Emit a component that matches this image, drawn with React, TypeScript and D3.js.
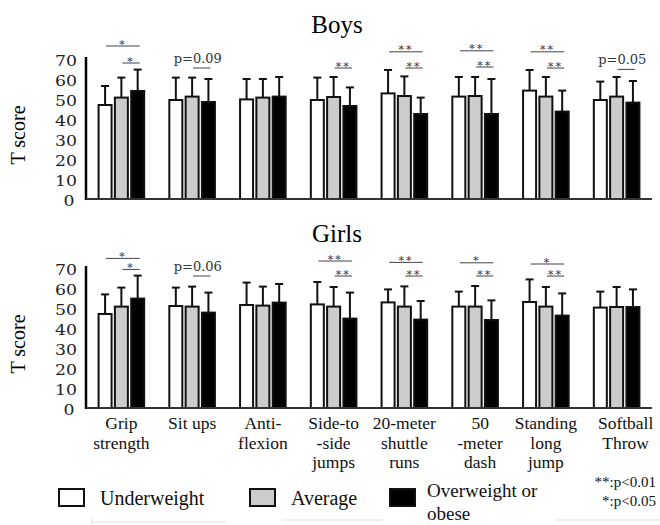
import * as d3 from "d3";

// ==== DATA ====

const CATEGORIES = [
  "Grip strength",
  "Sit ups",
  "Anti-flexion",
  "Side-to-side jumps",
  "20-meter shuttle runs",
  "50-meter dash",
  "Standing long jump",
  "Softball Throw",
];

// how each category label is broken over lines under the axis
const CATEGORY_LINES = [
  ["Grip", "strength"],
  ["Sit ups"],
  ["Anti-", "flexion"],
  ["Side-to", "-side", "jumps"],
  ["20-meter", "shuttle", "runs"],
  ["50", "-meter", "dash"],
  ["Standing", "long", "jump"],
  ["Softball", "Throw"],
];

const GROUPS = ["Underweight", "Average", "Overweight or obese"];
const GROUP_FILLS = ["#ffffff", "#cccccc", "#000000"];

const Y_TICKS = [0, 10, 20, 30, 40, 50, 60, 70];

// Boys: mean T score and SD
const BOYS_UNDER = [47, 49.5, 49.8, 49.5, 52.8, 51.2, 54.2, 49.5];
const BOYS_UNDER_SD = [9.5, 11.2, 10.2, 11.2, 11.7, 9.8, 10.3, 9.2];
const BOYS_AVG = [50.7, 51.2, 50.7, 51, 51.5, 51.5, 51.2, 51.2];
const BOYS_AVG_SD = [10, 9.5, 9.3, 10, 9.8, 9.5, 9.8, 9.8];
const BOYS_OVER = [54, 48.5, 51.2, 46.5, 42.5, 42.5, 43.7, 48.2];
const BOYS_OVER_SD = [10.7, 11.5, 9.8, 9.3, 8.2, 17.5, 10.5, 10.8];

// Girls: mean T score and SD
const GIRLS_UNDER = [47, 51, 51.5, 51.8, 52.8, 50.7, 53, 50.2];
const GIRLS_UNDER_SD = [9.8, 9.2, 11.2, 11.2, 6.5, 7.5, 11.3, 8];
const GIRLS_AVG = [50.7, 50.7, 51.2, 50.7, 50.7, 50.7, 50.7, 50.5];
const GIRLS_AVG_SD = [9.5, 10, 9.5, 9.8, 10.1, 10.3, 9.8, 10];
const GIRLS_OVER = [54.7, 47.7, 52.7, 44.7, 44.2, 44, 46.2, 50.5];
const GIRLS_OVER_SD = [11.5, 10, 9.3, 13, 9.3, 9.8, 11.1, 8.8];

// significance brackets: category index, from/to group, label, level (T score units)
type Sig = { cat: number; from: number; to: number; label: string; level: number };

const BOYS_SIG: Sig[] = [
  { cat: 0, from: 0, to: 2, label: "*", level: 76.5 },
  { cat: 0, from: 1, to: 2, label: "*", level: 68 },
  { cat: 1, from: 1, to: 2, label: "p=0.09", level: 65.5 },
  { cat: 3, from: 1, to: 2, label: "**", level: 65.5 },
  { cat: 4, from: 0, to: 2, label: "**", level: 73.6 },
  { cat: 4, from: 1, to: 2, label: "**", level: 65.5 },
  { cat: 5, from: 0, to: 2, label: "**", level: 74.1 },
  { cat: 5, from: 1, to: 2, label: "**", level: 66 },
  { cat: 6, from: 0, to: 2, label: "**", level: 73.6 },
  { cat: 6, from: 1, to: 2, label: "**", level: 65.5 },
  { cat: 7, from: 1, to: 2, label: "p=0.05", level: 64.8 },
];

const GIRLS_SIG: Sig[] = [
  { cat: 0, from: 0, to: 2, label: "*", level: 74.8 },
  { cat: 0, from: 1, to: 2, label: "*", level: 69.3 },
  { cat: 1, from: 1, to: 2, label: "p=0.06", level: 66 },
  { cat: 3, from: 0, to: 2, label: "**", level: 73.5 },
  { cat: 3, from: 1, to: 2, label: "**", level: 66 },
  { cat: 4, from: 0, to: 2, label: "**", level: 72.8 },
  { cat: 4, from: 1, to: 2, label: "**", level: 66 },
  { cat: 5, from: 0, to: 2, label: "*", level: 72.6 },
  { cat: 5, from: 1, to: 2, label: "**", level: 66 },
  { cat: 6, from: 0, to: 2, label: "*", level: 72 },
  { cat: 6, from: 1, to: 2, label: "**", level: 66 },
];

// ==== LAYOUT ====

const W = 660;
const H = 525;
const AXIS_LEFT = 86;
const AXIS_RIGHT = 652;
const BAR_W = 13;

const TIMES = "'Liberation Serif', 'Times New Roman', serif";
const CENTURY = "'DejaVu Serif', serif";

const x = d3.scaleBand<string>().domain(CATEGORIES).range([AXIS_LEFT, AXIS_RIGHT]);
const xInner = d3.scalePoint<number>().domain([0, 1, 2]).range([-16.3, 16.3]);
const cx = (cat: number, g: number) => (x(CATEGORIES[cat]) ?? 0) + x.bandwidth() / 2 + xInner(g)!;

type PanelProps = {
  title: string;
  bottom: number;
  means: number[][];
  sds: number[][];
  sigs: Sig[];
  titleY: number;
};

function Panel({ title, bottom, means, sds, sigs, titleY }: PanelProps) {
  const y = d3.scaleLinear().domain([0, 70]).range([bottom, bottom - 140]);

  return (
    <g>
      <text x={337} y={titleY} textAnchor="middle" fontFamily={TIMES} fontSize={25}>
        {title}
      </text>
      <text
        transform={`translate(25,${y(32)}) rotate(-90)`}
        textAnchor="middle"
        fontFamily={TIMES}
        fontSize={20}
      >
        T score
      </text>

      {Y_TICKS.map((t) => (
        <text
          key={t}
          x={t === 0 ? 69 : 66}
          y={y(t) + 7}
          textAnchor="middle"
          fontFamily={CENTURY}
          fontSize={14}
          textLength={t === 0 ? 11 : 22}
          lengthAdjust="spacingAndGlyphs"
          fill="#222"
        >
          {t}
        </text>
      ))}

      {means.map((vals, g) =>
        vals.map((v, c) => {
          const bx = cx(c, g);
          const top = y(v + sds[g][c]);
          return (
            <g key={`${g}-${c}`}>
              <line x1={bx} x2={bx} y1={y(v)} y2={top} stroke="#111" strokeWidth={2} />
              <line x1={bx - 4} x2={bx + 4} y1={top} y2={top} stroke="#111" strokeWidth={2} />
              <rect
                x={bx - BAR_W / 2}
                y={y(v)}
                width={BAR_W}
                height={y(0) - y(v)}
                fill={GROUP_FILLS[g]}
                stroke="#111"
                strokeWidth={2}
              />
            </g>
          );
        })
      )}

      <line x1={AXIS_LEFT} x2={AXIS_LEFT} y1={y(71)} y2={y(0) + 1} stroke="#000" strokeWidth={2.5} />
      <line x1={AXIS_LEFT} x2={AXIS_RIGHT} y1={y(0)} y2={y(0)} stroke="#333" strokeWidth={2} />

      {sigs.map((s, i) => {
        const x1 = cx(s.cat, s.from) + 1;
        const x2 = cx(s.cat, s.to) + 2;
        const ly = y(s.level);
        const isP = s.label.startsWith("p");
        return (
          <g key={i}>
            <line x1={x1} x2={x2} y1={ly} y2={ly} stroke="#444" strokeWidth={1} />
            {isP ? (
              <text
                x={(x1 + x2) / 2 - 4}
                y={ly - 5.5}
                textAnchor="middle"
                fontFamily={CENTURY}
                fontSize={13}
                fill="#333"
              >
                {s.label}
              </text>
            ) : (
              <text
                x={(x1 + x2) / 2}
                y={ly + 1.5}
                textAnchor="middle"
                fontFamily={CENTURY}
                fontSize={11}
                letterSpacing={2}
                fill="#333"
              >
                {s.label}
              </text>
            )}
          </g>
        );
      })}
    </g>
  );
}

export default function App() {
  const labelBase = 429;
  const lineH = 19.5;
  return (
    <svg
      width={W}
      height={H}
      viewBox={`0 0 ${W} ${H}`}
      style={{ position: "absolute", left: 0, top: 0, background: "#fff" }}
    >
      <Panel
        title="Boys"
        titleY={33}
        bottom={199}
        means={[BOYS_UNDER, BOYS_AVG, BOYS_OVER]}
        sds={[BOYS_UNDER_SD, BOYS_AVG_SD, BOYS_OVER_SD]}
        sigs={BOYS_SIG}
      />
      <Panel
        title="Girls"
        titleY={241.5}
        bottom={408}
        means={[GIRLS_UNDER, GIRLS_AVG, GIRLS_OVER]}
        sds={[GIRLS_UNDER_SD, GIRLS_AVG_SD, GIRLS_OVER_SD]}
        sigs={GIRLS_SIG}
      />

      {/* category labels */}
      {CATEGORY_LINES.map((lines, i) => {
        const shift = i === 7 ? 9 : i === 5 ? 5 : 0;
        const c = (x(CATEGORIES[i]) ?? 0) + x.bandwidth() / 2 + shift;
        return (
          <text key={i} textAnchor="middle" fontFamily={TIMES} fontSize={17.5} fill="#111">
            {lines.map((ln, j) => (
              <tspan key={j} x={c} y={labelBase + j * lineH}>
                {ln}
              </tspan>
            ))}
          </text>
        );
      })}

      {/* legend */}
      {[
        { bx: 59, tx: 100 },
        { bx: 250, tx: 291 },
        { bx: 390, tx: 427 },
      ].map((p, i) => (
        <g key={i}>
          <rect x={p.bx} y={489} width={25} height={17} fill={GROUP_FILLS[i]} stroke="#111" strokeWidth={2} />
          {i < 2 ? (
            <text x={p.tx} y={505} fontFamily={TIMES} fontSize={20} fill="#111">
              {GROUPS[i]}
            </text>
          ) : (
            <text fontFamily={TIMES} fontSize={19} fill="#111">
              <tspan x={p.tx} y={497}>Overweight or</tspan>
              <tspan x={p.tx} y={520}>obese</tspan>
            </text>
          )}
        </g>
      ))}
      <text x={656} y={487} textAnchor="end" fontFamily={TIMES} fontSize={15} fill="#111">
        **:p&lt;0.01
      </text>
      <text x={656} y={506} textAnchor="end" fontFamily={TIMES} fontSize={15} fill="#111">
        *:p&lt;0.05
      </text>

      {/* faint text-box edges at the bottom */}
      <g stroke="#e2e2e2" strokeWidth={1}>
        <line x1={92} x2={226} y1={522} y2={522} />
        <line x1={92} x2={92} y1={517} y2={525} />
        <line x1={282} x2={383} y1={520} y2={520} />
        <line x1={556} x2={660} y1={520} y2={520} />
      </g>
    </svg>
  );
}
